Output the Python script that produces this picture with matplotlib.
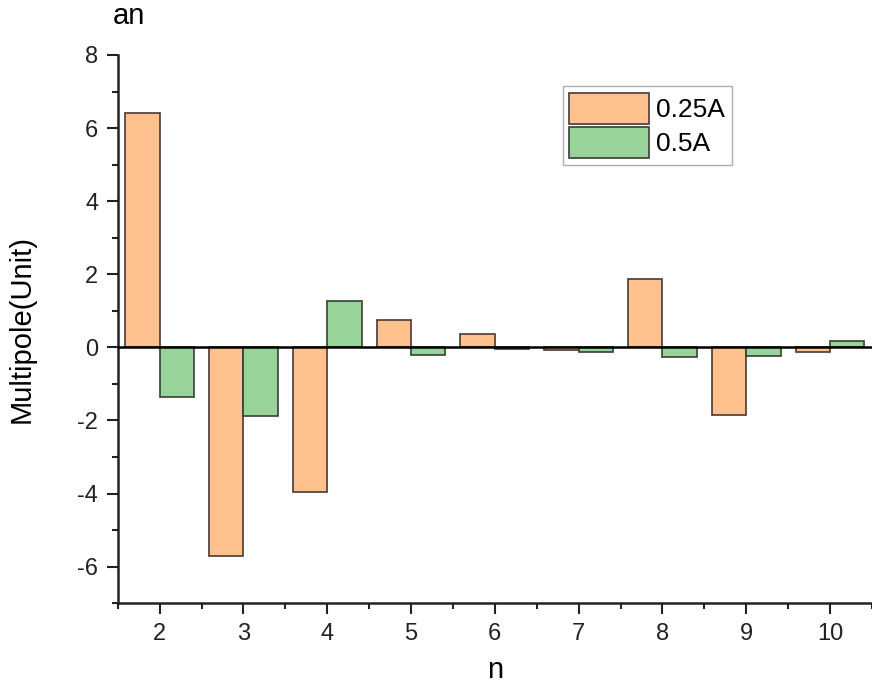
import numpy as np
import matplotlib.pyplot as plt
from matplotlib.ticker import MultipleLocator

plt.rcParams['font.family'] = ['Liberation Sans', 'DejaVu Sans']
plt.rcParams['axes.unicode_minus'] = False

n_values = [2, 3, 4, 5, 6, 7, 8, 9, 10]
an_025A = [6.42, -5.70, -3.95, 0.74, 0.36, -0.08, 1.87, -1.84, -0.12]
an_05A = [-1.37, -1.89, 1.26, -0.22, -0.05, -0.12, -0.27, -0.25, 0.17]
series_labels = ['0.25A', '0.5A']

fig = plt.figure(figsize=(8.72, 6.87), dpi=100)
ax = fig.add_axes([0.135, 0.122, 0.865, 0.798])

x = np.array(n_values)
w = 0.41
ax.bar(x - w / 2, an_025A, width=w, color='#FFC28F', edgecolor='#4a3a30',
       linewidth=1.2, label=series_labels[0], zorder=2)
ax.bar(x + w / 2, an_05A, width=w, color='#98D49A', edgecolor='#344034',
       linewidth=1.2, label=series_labels[1], zorder=2)
ax.axhline(0, color='black', lw=1.8, zorder=3)

ax.set_xlim(1.5, 10.5)
ax.set_ylim(-7, 8)
ax.set_xticks(n_values)
ax.xaxis.set_minor_locator(MultipleLocator(0.5))
ax.yaxis.set_major_locator(MultipleLocator(2))
ax.yaxis.set_minor_locator(MultipleLocator(1))

for side in ['top', 'right']:
    ax.spines[side].set_visible(False)
for side in ['left', 'bottom']:
    ax.spines[side].set_linewidth(1.8)
    ax.spines[side].set_color('#222222')

ax.tick_params(which='major', length=8, width=1.5, labelsize=17, pad=6,
               colors='#222222')
ax.tick_params(which='minor', length=4, width=1.5, colors='#222222')

ax.set_xlabel('n', fontsize=21, labelpad=8)
ax.set_ylabel('Multipole(Unit)', fontsize=21, labelpad=30)
ax.text(0.015, 1.045, 'an', transform=ax.transAxes, fontsize=21,
        ha='center', va='bottom')

leg = ax.legend(loc='upper left', bbox_to_anchor=(0.59, 0.943), fontsize=19,
                handlelength=3.0, handleheight=1.45, handletextpad=0.3,
                labelspacing=0.1, borderpad=0.25, borderaxespad=0,
                fancybox=False, frameon=True)
leg.get_frame().set_edgecolor('#999999')
leg.get_frame().set_linewidth(1.0)

fig.savefig('out.png', dpi=100)
